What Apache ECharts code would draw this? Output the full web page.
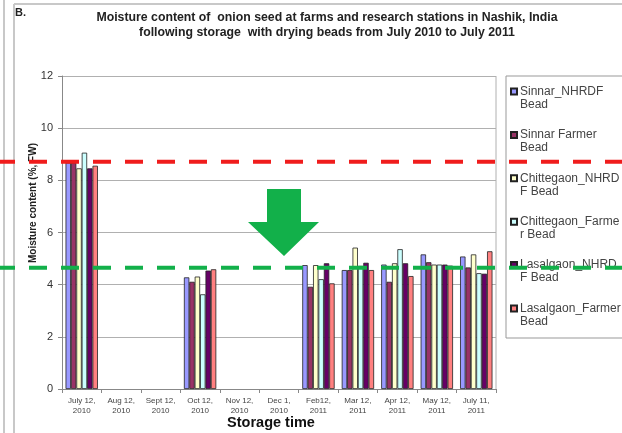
<!DOCTYPE html>
<html>
<head>
<meta charset="utf-8">
<script src="https://cdn.jsdelivr.net/npm/echarts@6/dist/echarts.min.js"></script>
<style>
html,body{margin:0;padding:0;background:#fff;}
#chart{width:622px;height:433px;}
</style>
</head>
<body>
<div id="chart"></div>
<script>
// ---- Data ----
var categories = ['July 12,\n2010','Aug 12,\n2010','Sept 12,\n2010','Oct 12,\n2010','Nov 12,\n2010','Dec 1,\n2010','Feb12,\n2011','Mar 12,\n2011','Apr 12,\n2011','May 12,\n2011','July 11,\n2011'];
var seriesNames = ['Sinnar_NHRDF Bead','Sinnar Farmer Bead','Chittegaon_NHRDF Bead','Chittegaon_Farmer Bead','Lasalgaon_NHRDF Bead','Lasalgaon_Farmer Bead'];
var legendLabels = ['Sinnar_NHRDF\nBead','Sinnar Farmer\nBead','Chittegaon_NHRD\nF Bead','Chittegaon_Farme\nr Bead','Lasalgaon_NHRD\nF Bead','Lasalgaon_Farmer\nBead'];
var sinnarNHRDF      = [8.68, null, null, 4.28, null, null, 4.75, 4.56, 4.77, 5.16, 5.08];
var sinnarFarmer     = [8.68, null, null, 4.11, null, null, 3.92, 4.56, 4.11, 4.86, 4.66];
var chittegaonNHRDF  = [8.46, null, null, 4.31, null, null, 4.75, 5.42, 4.82, 4.77, 5.16];
var chittegaonFarmer = [9.06, null, null, 3.63, null, null, 4.21, 4.72, 5.36, 4.77, 4.44];
var lasalgaonNHRDF   = [8.46, null, null, 4.54, null, null, 4.82, 4.84, 4.82, 4.77, 4.42];
var lasalgaonFarmer  = [8.56, null, null, 4.59, null, null, 4.05, 4.56, 4.33, 4.73, 5.28];
var yTicks = [0, 2, 4, 6, 8, 10, 12];
var redLevel = 8.71;
var greenLevel = 4.65;
var colors = ['#9999FF','#993366','#FFFFCC','#CCFFFF','#660066','#FF8080'];

var allValues = [sinnarNHRDF, sinnarFarmer, chittegaonNHRDF, chittegaonFarmer, lasalgaonNHRDF, lasalgaonFarmer];

var chart = echarts.init(document.getElementById('chart'), null, {renderer:'canvas'});

var series = allValues.map(function(vals, i){
  return {
    name: seriesNames[i],
    type: 'bar',
    data: vals,
    barGap: '0%',
    barCategoryGap: '18%',
    itemStyle: {color: colors[i], borderColor: '#222', borderWidth: 0.8},
    emphasis: {disabled: true}
  };
});

var legendMap = {};
seriesNames.forEach(function(n, i){ legendMap[n] = legendLabels[i]; });

chart.setOption({
  animation: false,
  backgroundColor: '#fff',
  grid: {left: 62, right: 126, top: 76, bottom: 44, containLabel: false},
  xAxis: {
    type: 'category',
    data: categories,
    axisLine: {lineStyle: {color: '#888', width: 1}},
    axisTick: {show: true, alignWithLabel: false, length: 4, lineStyle: {color: '#888'}},
    axisLabel: {color: '#444', fontSize: 8, fontFamily: 'Liberation Sans, Arial', lineHeight: 10, margin: 7, interval: 0}
  },
  yAxis: {
    type: 'value',
    min: yTicks[0],
    max: yTicks[yTicks.length - 1],
    interval: 2,
    axisLine: {show: true, lineStyle: {color: '#888', width: 1}},
    axisTick: {show: true, length: 4, lineStyle: {color: '#888'}},
    axisLabel: {color: '#333', fontSize: 11, fontFamily: 'Liberation Sans, Arial', margin: 9},
    splitLine: {show: true, lineStyle: {color: '#b0b0b0', width: 1}}
  },
  legend: {
    orient: 'vertical',
    left: 506,
    top: 76,
    width: 170,
    height: 270,
    padding: [8, 50, 9, 4],
    borderColor: '#999',
    borderWidth: 1,
    itemWidth: 6,
    itemHeight: 26,
    itemGap: 15.4,
    icon: 'path://M0 3.5H6V9.5H0Z M0 0 M0 26',
    data: seriesNames,
    formatter: function(n){ return legendMap[n]; },
    textStyle: {color: '#444', fontSize: 12, lineHeight: 13, fontFamily: 'Liberation Sans, Arial', padding: [0,0,0,-2]}
  },
  series: series
});

function addOverlays(){
  var yRed = chart.convertToPixel({yAxisIndex: 0}, redLevel);
  var yGreen = chart.convertToPixel({yAxisIndex: 0}, greenLevel);
  chart.setOption({
    graphic: [
      // outer frame
      {type: 'line', shape: {x1: 4, y1: 0, x2: 4, y2: 433}, style: {stroke: '#c8c8c8', lineWidth: 2}, z: 1},
      {type: 'line', shape: {x1: 14, y1: 4, x2: 14, y2: 433}, style: {stroke: '#c8c8c8', lineWidth: 2}, z: 1},
      {type: 'line', shape: {x1: 14, y1: 4, x2: 622, y2: 4}, style: {stroke: '#c8c8c8', lineWidth: 2}, z: 1},
      // right border of plot
      {type: 'line', shape: {x1: 496, y1: 76, x2: 496, y2: 389}, style: {stroke: '#b0b0b0', lineWidth: 1}, z: 1},
      // texts
      {type: 'text', left: 15, top: 7, style: {text: 'B.', font: 'bold 11px Liberation Sans, Arial', fill: '#222'}},
      {type: 'text', x: 327, y: 10, style: {text: 'Moisture content of  onion seed at farms and research stations in Nashik, India\nfollowing storage  with drying beads from July 2010 to July 2011', font: 'bold 12.3px Liberation Sans, Arial', fill: '#222', align: 'center', lineHeight: 15}},
      {type: 'text', x: 33, y: 203, rotation: Math.PI/2, style: {text: 'Moisture content (%, FW)', font: 'bold 10px Liberation Sans, Arial', fill: '#222', align: 'center', verticalAlign: 'middle'}},
      {type: 'text', x: 271, y: 423, style: {text: 'Storage time', font: 'bold 14.5px Liberation Sans, Arial', fill: '#111', align: 'center', verticalAlign: 'middle'}},
      // arrow
      {type: 'polygon', shape: {points: [[267,189],[301,189],[301,222],[319,222],[284,256],[248,222],[267,222]]}, style: {fill: '#12B04A'}, z: 50},
      // dashed threshold lines
      {type: 'line', shape: {x1: 0, y1: yRed, x2: 622, y2: yRed}, style: {stroke: '#F01C1C', lineWidth: 4, lineDash: [18, 14], lineDashOffset: 3}, z: 60},
      {type: 'line', shape: {x1: 0, y1: yGreen, x2: 622, y2: yGreen}, style: {stroke: '#12B04A', lineWidth: 4, lineDash: [18, 14], lineDashOffset: 3}, z: 60}
    ]
  });
}
addOverlays();
</script>
</body>
</html>
